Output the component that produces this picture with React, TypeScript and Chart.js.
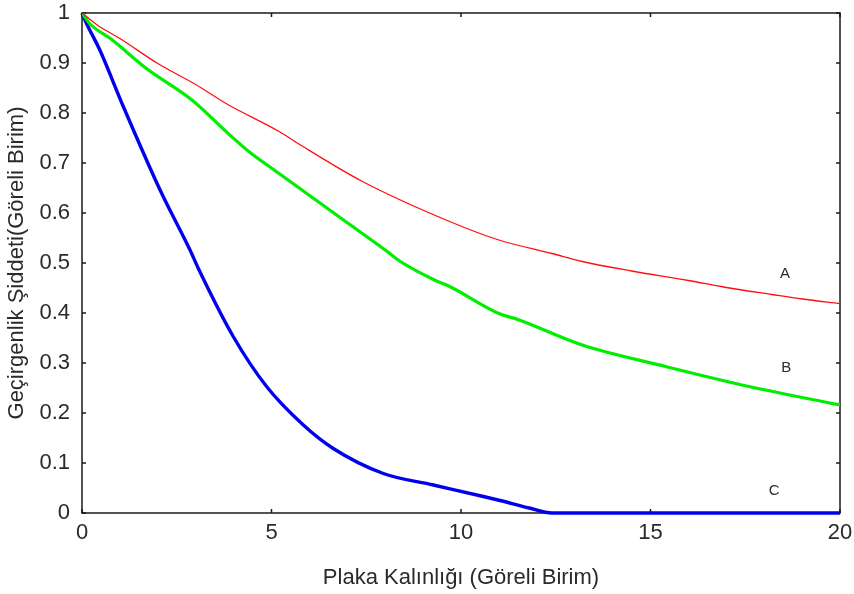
import React, { useEffect, useRef } from "react";
import { Chart, registerables } from "chart.js";

Chart.register(...registerables);

// Curve A (red)
const aX = [0, 0.4, 1, 2, 3, 3.8, 5.2, 5.7, 7.4, 9.7, 11, 12.4, 13.2, 14.5, 16, 17, 18.2, 19, 20];
const aY = [1, 0.976, 0.949, 0.899, 0.857, 0.819, 0.763, 0.739, 0.663, 0.583, 0.546, 0.519, 0.503, 0.484, 0.465, 0.451, 0.437, 0.428, 0.419];
// Curve B (green)
const bX = [0, 0.2, 0.8, 1.7, 2.9, 3.9, 4.4, 5.2, 6.9, 8.0, 8.4, 9.3, 9.7, 11.0, 11.5, 13.2, 15.4, 17.6, 20];
const bY = [1, 0.979, 0.946, 0.889, 0.826, 0.756, 0.723, 0.679, 0.586, 0.526, 0.503, 0.466, 0.453, 0.399, 0.387, 0.336, 0.293, 0.253, 0.216];
// Curve C (blue)
const cX = [0, 0.12, 0.47, 1.09, 2.06, 2.85, 3.07, 3.99, 4.87, 5.84, 6.63, 7.95, 9.27, 10.59, 11.03, 11.8, 12.4, 20];
const cY = [1, 0.979, 0.926, 0.813, 0.646, 0.526, 0.489, 0.353, 0.253, 0.176, 0.129, 0.079, 0.056, 0.033, 0.025, 0.01, 0, 0];

const curveLabels = ["A", "B", "C"];
const labelX = [18.55, 18.58, 18.26];
const labelY = [0.478, 0.29, 0.044];

const xTicks = [0, 5, 10, 15, 20];
const yTicks = [0, 0.1, 0.2, 0.3, 0.4, 0.5, 0.6, 0.7, 0.8, 0.9, 1];

const xTitle = "Plaka Kalınlığı (Göreli Birim)";
const yTitle = "Geçirgenlik Şiddeti(Göreli Birim)";

const toPts = (xs: number[], ys: number[]) => xs.map((x, i) => ({ x, y: ys[i] }));

const FONT = "'Liberation Sans', Arial, sans-serif";
const TXT = "#2a2a2a";

const boxPlugin = {
  id: "boxPlugin",
  beforeDatasetsDraw(chart: any) {
    const { ctx, chartArea: a, scales } = chart;
    ctx.save();
    ctx.strokeStyle = "#1a1a1a";
    ctx.lineWidth = 1.5;
    ctx.strokeRect(a.left, a.top, a.right - a.left, a.bottom - a.top);
    const tl = 4;
    ctx.beginPath();
    yTicks.forEach((v) => {
      const y = scales.y.getPixelForValue(v);
      ctx.moveTo(a.left, y);
      ctx.lineTo(a.left + tl, y);
      ctx.moveTo(a.right, y);
      ctx.lineTo(a.right - tl, y);
    });
    xTicks.forEach((v) => {
      const x = scales.x.getPixelForValue(v);
      ctx.moveTo(x, a.bottom);
      ctx.lineTo(x, a.bottom - tl);
      ctx.moveTo(x, a.top);
      ctx.lineTo(x, a.top + tl);
    });
    ctx.stroke();
    ctx.restore();
  },
  afterDatasetsDraw(chart: any) {
    const { ctx, scales } = chart;
    ctx.save();
    ctx.fillStyle = TXT;
    ctx.font = `15px ${FONT}`;
    ctx.textAlign = "center";
    ctx.textBaseline = "middle";
    curveLabels.forEach((t, i) => {
      ctx.fillText(t, scales.x.getPixelForValue(labelX[i]), scales.y.getPixelForValue(labelY[i]));
    });
    ctx.restore();
  },
};

export default function App() {
  const ref = useRef<HTMLCanvasElement | null>(null);
  useEffect(() => {
    if (!ref.current) return;
    const chart = new Chart(ref.current, {
      type: "line",
      data: {
        datasets: [
          { label: "A", data: toPts(aX, aY), borderColor: "#ff1010", borderWidth: 1.3, pointRadius: 0, cubicInterpolationMode: "monotone" },
          { label: "B", data: toPts(bX, bY), borderColor: "#00ee00", borderWidth: 3.2, pointRadius: 0, cubicInterpolationMode: "monotone" },
          { label: "C", data: toPts(cX, cY), borderColor: "#0000ee", borderWidth: 3.4, pointRadius: 0, cubicInterpolationMode: "monotone", clip: 4 },
        ],
      } as any,
      options: {
        animation: false,
        responsive: false,
        layout: { padding: { left: 0, top: 13, right: 14, bottom: 0 } },
        plugins: { legend: { display: false }, tooltip: { enabled: false } },
        scales: {
          x: {
            type: "linear",
            min: 0,
            max: 20,
            afterFit: (s: any) => { s.height = 81; s.paddingLeft = 0; s.paddingRight = 0; },
            afterBuildTicks: (s: any) => { s.ticks = xTicks.map((v) => ({ value: v })); },
            grid: { display: false, drawTicks: false },
            border: { display: false },
            ticks: { color: TXT, font: { family: FONT, size: 22 }, padding: 7, maxRotation: 0 },
            title: { display: true, text: xTitle, color: TXT, font: { family: FONT, size: 22 }, padding: { top: 0, bottom: 3 } },
          },
          y: {
            type: "linear",
            min: 0,
            max: 1,
            afterFit: (s: any) => { s.width = 82; s.paddingTop = 0; s.paddingBottom = 0; },
            afterBuildTicks: (s: any) => { s.ticks = yTicks.map((v) => ({ value: v })); },
            grid: { display: false, drawTicks: false },
            border: { display: false },
            ticks: {
              color: TXT,
              font: { family: FONT, size: 22 },
              padding: 12,
              callback: (v: any) => String(Number(Number(v).toFixed(1))),
            },
            title: { display: true, text: yTitle, color: TXT, font: { family: FONT, size: 22 }, padding: { top: 4, bottom: 0 } },
          },
        },
      } as any,
      plugins: [boxPlugin],
    });
    return () => chart.destroy();
  }, []);
  return (
    <div style={{ position: "fixed", left: 0, top: 0, width: 854, height: 594, background: "#fff" }}>
      <canvas ref={ref} width={854} height={594} style={{ display: "block" }} />
    </div>
  );
}
